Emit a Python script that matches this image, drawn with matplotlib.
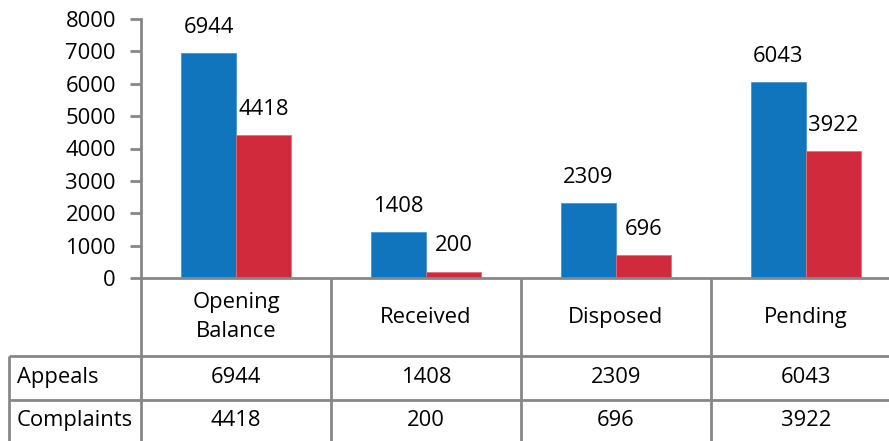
import numpy as np
import matplotlib.pyplot as plt

categories = ['Opening\nBalance', 'Received', 'Disposed', 'Pending']
series_names = ['Appeals', 'Complaints']
appeals = [6944, 1408, 2309, 6043]
complaints = [4418, 200, 696, 3922]

blue = '#1175BE'
red = '#D22A3D'
grey = '#878787'

plt.rcParams['font.family'] = ['Open Sans', 'DejaVu Sans']
fs = 15.8

W, H = 889, 441
fig = plt.figure(figsize=(W / 100, H / 100), dpi=100)

# chart area in pixels (right edge runs past the image like the reference)
left, right, top, zero = 141, 901, 19, 278
ax = fig.add_axes([left / W, (H - zero) / H, (right - left) / W, (zero - top) / H])

x = np.arange(len(categories))
bw = 0.29
b1 = ax.bar(x - bw / 2, appeals, bw, color=blue, edgecolor='#4a95cf', linewidth=0.6)
b2 = ax.bar(x + bw / 2, complaints, bw, color=red, edgecolor='#e0707c', linewidth=0.6)
ax.bar_label(b1, labels=[str(v) for v in appeals], padding=11, fontsize=fs)
ax.bar_label(b2, labels=[str(v) for v in complaints], padding=11, fontsize=fs)

ax.set_xlim(-0.5, len(categories) - 0.5)
ax.set_ylim(0, 8000)
ax.set_yticks(np.arange(0, 8001, 1000))
ax.set_xticks([])
ax.tick_params(axis='y', length=8, width=2, color=grey, labelsize=fs, pad=10)
for s in ['top', 'right']:
    ax.spines[s].set_visible(False)
for s in ['left', 'bottom']:
    ax.spines[s].set_color(grey)
    ax.spines[s].set_linewidth(2)

# data table below the chart, y in pixels from the top of the image
tab = fig.add_axes([left / W, 0, (right - left) / W, (H - zero) / H])
tab.set_xlim(-0.5, len(categories) - 0.5)
tab.set_ylim(H + 2, zero)
tab.axis('off')

row_top = [357, 401]
bottom = H + 2
label_x = -0.5 - (left - 9) / ((right - left) / len(categories))
lk = dict(color=grey, lw=2, clip_on=False, solid_capstyle='butt')

for yy in row_top:
    tab.plot([label_x, len(categories) - 0.5], [yy, yy], **lk)
tab.plot([label_x, label_x], [row_top[0], bottom], **lk)
for b in np.arange(len(categories)) - 0.5:
    tab.plot([b, b], [zero, bottom], **lk)

for i, c in enumerate(categories):
    tab.text(i, (zero + row_top[0]) / 2, c, ha='center', va='center',
             fontsize=fs, linespacing=1.5)

rows = [appeals, complaints]
row_mid = [(row_top[0] + row_top[1]) / 2, (row_top[1] + bottom) / 2]
for name, vals, ym in zip(series_names, rows, row_mid):
    tab.text(label_x + 0.04, ym, name, ha='left', va='center', fontsize=fs, clip_on=False)
    for i, v in enumerate(vals):
        tab.text(i, ym, str(v), ha='center', va='center', fontsize=fs)

fig.savefig('out.png', dpi=100)
